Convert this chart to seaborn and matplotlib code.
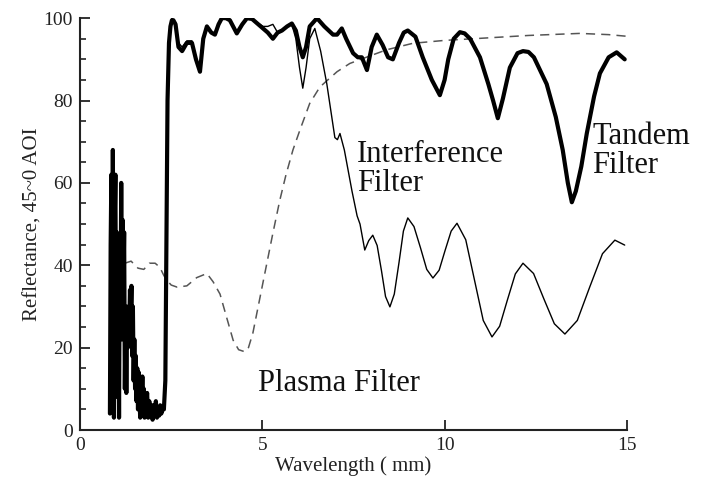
import numpy as np
import pandas as pd
import matplotlib
matplotlib.use("Agg")
import matplotlib.pyplot as plt
import seaborn as sns
from matplotlib.ticker import MultipleLocator

# Tandem filter (thick line)
tandem_x = [0.82, 0.84, 0.86, 0.88, 0.90, 0.92, 0.93, 0.95, 0.97, 0.99, 1.01, 1.03,
            1.05, 1.07, 1.09, 1.11, 1.13, 1.15, 1.17, 1.19, 1.21, 1.23, 1.25, 1.27,
            1.29, 1.31, 1.33, 1.35, 1.37, 1.39, 1.41, 1.43, 1.45, 1.47, 1.49, 1.51,
            1.53, 1.55, 1.57, 1.59, 1.61, 1.63, 1.65, 1.67, 1.69, 1.71, 1.73, 1.75,
            1.77, 1.79, 1.81, 1.84, 1.87, 1.90, 1.93, 1.96, 1.99, 2.02, 2.05, 2.08,
            2.11, 2.14, 2.17, 2.20, 2.23, 2.26, 2.30, 2.34, 2.37, 2.40, 2.44, 2.48,
            2.52, 2.56, 2.62, 2.70, 2.80, 2.93, 3.07, 3.18, 3.29, 3.38, 3.48, 3.60,
            3.70, 3.80, 3.89, 4.00, 4.11, 4.20, 4.30, 4.45, 4.58, 4.72, 4.85, 5.02,
            5.15, 5.29, 5.42, 5.54, 5.68, 5.81, 5.92, 6.02, 6.11, 6.20, 6.30, 6.50,
            6.70, 6.94, 7.05, 7.18, 7.30, 7.49, 7.62, 7.73, 7.87, 8.00, 8.14, 8.30,
            8.45, 8.58, 8.75, 8.88, 8.99, 9.20, 9.40, 9.65, 9.87, 10.00, 10.10, 10.25,
            10.42, 10.55, 10.70, 10.97, 11.20, 11.33, 11.46, 11.60, 11.79, 12.00, 12.15,
            12.30, 12.45, 12.80, 13.05, 13.24, 13.38, 13.49, 13.60, 13.75, 13.90,
            14.10, 14.26, 14.50, 14.72, 14.94]
tandem_y = [4, 45, 62, 20, 68, 30, 3, 50, 62, 15, 48, 8,
            40, 3, 45, 25, 60, 22, 51, 35, 48, 10, 30, 9,
            27, 20, 30, 24, 34, 28, 35, 18, 30, 12, 22, 10,
            18, 7, 15, 5, 14, 8, 3, 12, 6, 13, 4, 10,
            3, 8, 5, 9, 3, 7, 4, 6, 2.5, 6, 4, 7,
            3, 5, 3.5, 6, 4, 5, 5, 12, 45, 80, 94, 98,
            99.5, 99.5, 98.5, 93, 92, 94, 94, 90, 87, 95, 98, 96.5,
            96, 98.5, 100, 100, 99.5, 98, 96.3, 98.5, 100, 99.8, 98.8, 97.5,
            96.5, 95, 96.5, 97, 98, 98.7, 97, 93, 90.5, 93, 98, 100,
            98, 96, 96, 97.5, 95, 91.5, 90.5, 90.5, 87.4, 93, 96, 93.5,
            90.5, 90, 94, 96.5, 97, 95.5, 90.5, 85, 81.3, 85, 90, 95,
            96.6, 96.3, 95, 90.5, 84, 80, 75.7, 80.5, 88, 91.5, 92,
            91.8, 90.5, 84, 76, 68, 60, 55.3, 58, 64, 72,
            81, 86.6, 90.5, 91.7, 90]

# Interference filter (thin line)
interf_x = [2.30, 2.34, 2.37, 2.40, 2.44, 2.48, 2.52, 2.56, 2.62, 2.70, 2.80, 2.93,
            3.07, 3.18, 3.29, 3.38, 3.48, 3.60, 3.70, 3.80, 3.89, 4.00, 4.11, 4.20,
            4.30, 4.45, 4.58, 4.72, 4.85, 5.02, 5.15, 5.29, 5.42, 5.54, 5.68, 5.81,
            5.92, 6.02, 6.11, 6.20, 6.30, 6.44, 6.60, 6.77, 6.99, 7.06, 7.13, 7.25,
            7.46, 7.60, 7.68, 7.81, 7.92, 8.03, 8.15, 8.27, 8.38, 8.50, 8.62, 8.75,
            8.87, 8.99, 9.16, 9.34, 9.51, 9.68, 9.85, 10.01, 10.18, 10.34, 10.58, 10.82,
            11.06, 11.30, 11.51, 11.72, 11.94, 12.15, 12.44, 12.72, 13.01, 13.30, 13.64,
            13.98, 14.33, 14.67, 14.94]
interf_y = [5, 12, 45, 80, 94, 98, 100, 99.5, 99, 94, 93, 94.5,
            94.5, 90.5, 87.5, 95, 98, 96.5, 96.5, 98.5, 100, 100, 99.5, 98,
            96.8, 98.5, 100, 99.8, 99, 98, 98, 98.5, 96.5, 97, 98, 98.5,
            95, 88, 83, 88, 95, 97.5, 92, 84, 71, 70.5, 72, 68,
            58, 52, 50, 43.7, 46, 47.3, 44.8, 38.6, 32.4, 29.9, 33, 40.7,
            48.3, 51.5, 49.4, 44.2, 39, 36.9, 38.8, 43.5, 48.3, 50.2, 46.2, 36.4,
            26.6, 22.6, 25.2, 31.5, 37.9, 40.5, 38, 31.9, 25.8, 23.3, 26.6,
            34.7, 42.8, 46.1, 44.9]

# Plasma filter (dashed line)
plasma_x = [1.23, 1.40, 1.59, 1.75, 1.90, 2.06, 2.19, 2.30, 2.38, 2.50, 2.66, 2.93,
            3.20, 3.48, 3.65, 3.84, 4.00, 4.20, 4.35, 4.52, 4.62, 4.74, 5.00, 5.29,
            5.48, 5.65, 5.84, 6.03, 6.30, 6.58, 7.05, 7.40, 7.76, 8.40, 9.13, 10.00,
            10.97, 12.30, 13.71, 14.50, 15.00]
plasma_y = [40.5, 41, 39.3, 39, 40.5, 40.5, 39.5, 37.5, 36.4, 35.2, 34.7, 35,
            37, 38, 36, 33, 28, 21.8, 19.5, 19, 20, 23.5, 35, 47.8,
            55.8, 62, 68, 72.8, 79.3, 83.3, 87, 89, 90.2, 92.3, 93.9, 94.6,
            95.1, 95.8, 96.3, 96, 95.6]

sns.set_theme(style="ticks")
plt.rcParams["font.family"] = ["Liberation Serif", "DejaVu Serif"]

fig = plt.figure(figsize=(7.02, 4.78), dpi=100)
ax = fig.add_axes([0.114, 0.1004, 0.779, 0.8616])

plasma = pd.DataFrame({"x": plasma_x, "y": plasma_y})
interf = pd.DataFrame({"x": interf_x, "y": interf_y})
tandem = pd.DataFrame({"x": tandem_x, "y": tandem_y})

sns.lineplot(data=plasma, x="x", y="y", ax=ax, sort=False, estimator=None,
             color="#555555", linewidth=1.1, linestyle=(0, (6, 4)))
sns.lineplot(data=tandem, x="x", y="y", ax=ax, sort=False, estimator=None,
             color="black", linewidth=3.0, solid_joinstyle="round")
sns.lineplot(data=interf, x="x", y="y", ax=ax, sort=False, estimator=None,
             color="black", linewidth=1.0, solid_joinstyle="round")

ax.set_xlim(0, 15)
ax.set_ylim(0, 100)
ax.xaxis.set_major_locator(MultipleLocator(5))
ax.yaxis.set_major_locator(MultipleLocator(20))
ax.yaxis.set_minor_locator(MultipleLocator(5))
ax.tick_params(axis="both", which="major", direction="in", length=7, width=1.3,
               labelsize=14, pad=5, colors="#222222")
ax.tick_params(axis="y", which="minor", direction="in", length=4, width=1.2,
               colors="#222222")
sns.despine(ax=ax)
for side in ["left", "bottom"]:
    ax.spines[side].set_linewidth(1.5)
    ax.spines[side].set_color("#222222")

ax.set_xlabel("Wavelength ( mm)", fontsize=15, labelpad=2, color="#222222")
ax.set_ylabel("Reflectance, 45~0 AOI", fontsize=15, labelpad=1, color="#222222")

ax.text(7.6, 70.3, "Interference\nFilter", fontsize=22, va="top", ha="left",
        linespacing=1.0, color="#111111")
ax.text(14.05, 74.7, "Tandem\nFilter", fontsize=22, va="top", ha="left",
        linespacing=1.0, color="#111111", clip_on=False)
ax.text(4.88, 9.5, "Plasma Filter", fontsize=22, va="baseline", ha="left",
        color="#111111")

fig.savefig("out.png", dpi=100)
